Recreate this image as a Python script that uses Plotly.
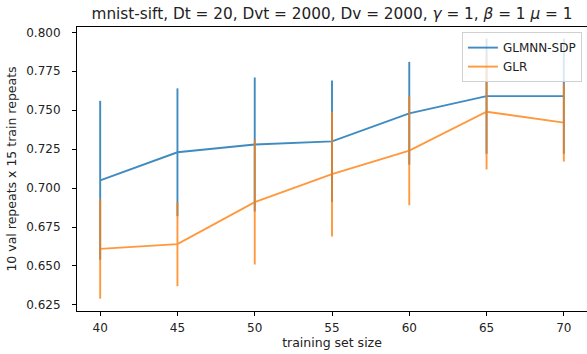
import plotly.graph_objects as go

train_size = [40, 45, 50, 55, 60, 65, 70]
glmnn_sdp = [0.705, 0.723, 0.728, 0.730, 0.748, 0.759, 0.759]
glmnn_sdp_err = [0.051, 0.041, 0.043, 0.039, 0.033, 0.037, 0.037]
glr = [0.661, 0.664, 0.691, 0.709, 0.724, 0.749, 0.742]
glr_err = [0.032, 0.027, 0.040, 0.040, 0.035, 0.037, 0.025]
y_ticks = [0.625, 0.650, 0.675, 0.700, 0.725, 0.750, 0.775, 0.800]
x_ticks = [40, 45, 50, 55, 60, 65, 70]

BLUE = "#1f77b4"
ORANGE = "#ff7f0e"
FONT = "DejaVu Sans"

fig = go.Figure()
fig.add_trace(go.Scatter(
    x=train_size, y=glmnn_sdp, mode="lines", name="GLMNN-SDP",
    line=dict(color=BLUE, width=1.9),
    error_y=dict(type="data", array=glmnn_sdp_err, color=BLUE, thickness=1.9, width=0),
    opacity=0.85,
))
fig.add_trace(go.Scatter(
    x=train_size, y=glr, mode="lines", name="GLR",
    line=dict(color=ORANGE, width=1.9),
    error_y=dict(type="data", array=glr_err, color=ORANGE, thickness=1.9, width=0),
    opacity=0.8,
))

fig.update_layout(
    width=587, height=354,
    margin=dict(l=77, r=0, t=27, b=43),
    paper_bgcolor="white", plot_bgcolor="white",
    font=dict(family=FONT, size=12, color="#222"),
    title=dict(
        text="mnist-sift, Dt = 20, Dvt = 2000, Dv = 2000, <i>γ</i> = 1, <i>β</i> = 1 <i>μ</i> = 1",
        x=0.5, xref="paper", xanchor="center",
        y=1 - 14 / 354, yref="container", yanchor="middle",
        font=dict(family=FONT, size=15.3, color="#222"),
    ),
    legend=dict(
        x=0.99, y=0.982, xanchor="right", yanchor="top",
        bgcolor="rgba(255,255,255,0.8)", bordercolor="#d0d0d0", borderwidth=1,
        font=dict(family=FONT, size=12, color="#222"),
        tracegroupgap=0, itemwidth=30,
    ),
    showlegend=True,
)

fig.update_xaxes(
    range=[38.5, 71.5], tickvals=x_ticks, ticktext=[str(v) for v in x_ticks],
    showgrid=False, zeroline=False,
    showline=True, linecolor="black", linewidth=1, mirror=True,
    ticks="outside", ticklen=4, tickcolor="black", tickwidth=1,
    ticklabelstandoff=2,
    title=dict(text="training set size", font=dict(family=FONT, size=12.5), standoff=3),
)
fig.update_yaxes(
    range=[0.6211, 0.8034], tickvals=y_ticks, ticktext=[f"{v:.3f}" for v in y_ticks],
    showgrid=False, zeroline=False,
    showline=True, linecolor="black", linewidth=1, mirror=False,
    ticks="outside", ticklen=4, tickcolor="black", tickwidth=1,
    ticklabelstandoff=9,
    title=dict(text="10 val repeats x 15 train repeats", font=dict(family=FONT, size=12.5), standoff=6),
)

fig.write_html("out.html")
